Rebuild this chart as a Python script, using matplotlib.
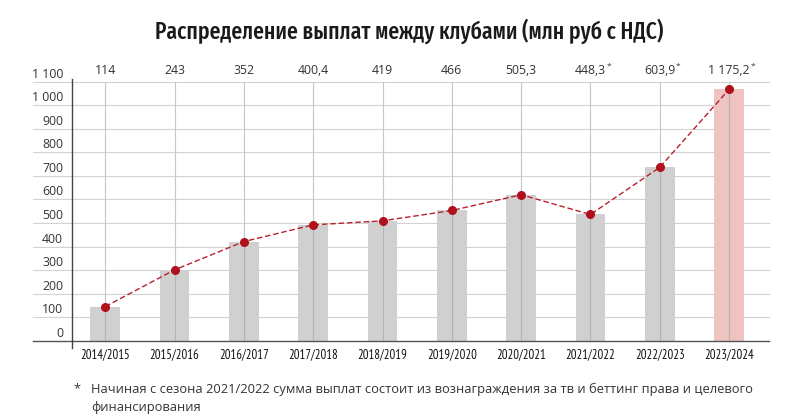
import matplotlib
matplotlib.use("Agg")
import matplotlib.pyplot as plt
from matplotlib import font_manager

seasons = ["2014/2015", "2015/2016", "2016/2017", "2017/2018", "2018/2019",
           "2019/2020", "2020/2021", "2021/2022", "2022/2023", "2023/2024"]
# bar heights as drawn against the axis
bar_values = [145, 301, 421, 492, 509, 553, 620, 536, 736, 1067]
# printed value labels
value_labels = ["114", "243", "352", "400,4", "419", "466", "505,3", "448,3", "603,9", "1 175,2"]
starred = [False, False, False, False, False, False, False, True, True, True]
y_ticks = [0, 100, 200, 300, 400, 500, 600, 700, 800, 900, 1000, 1100]
y_tick_labels = ["0", "100", "200", "300", "400", "500", "600", "700", "800", "900", "1 000", "1 100"]
title = "Распределение выплат между клубами (млн руб с НДС)"
footnote_line1 = "Начиная с сезона 2021/2022 сумма выплат состоит из вознаграждения за тв и беттинг права и целевого"
footnote_line2 = "финансирования"

names = {f.name for f in font_manager.fontManager.ttflist}
def pick(*c):
    for n in c:
        if n in names:
            return [n, "DejaVu Sans"]
    return ["DejaVu Sans"]
title_font = pick("Fira Sans Extra Condensed", "Roboto Condensed", "PT Sans Narrow", "Roboto")
narrow = pick("PT Sans Narrow", "Roboto Condensed", "Roboto")
body = pick("Open Sans", "Noto Sans")

W, H = 800, 420
fig = plt.figure(figsize=(W / 100, H / 100), dpi=100)
fig.patch.set_facecolor("white")

px_left, px_right = 33, 769
px_base, px_top = 340.7, 81.7
ax = fig.add_axes([px_left / W, (H - px_base) / H, (px_right - px_left) / W, (px_base - px_top) / H])
ax.set_axis_off()

step = 69.3
c0 = 105.3
xl = (px_left - c0) / step
xr = (px_right - c0) / step
ax.set_xlim(xl, xr)
ax.set_ylim(0, 1100)
ppu = (px_base - px_top) / 1100.0

x = list(range(len(seasons)))

for v in y_ticks[1:]:
    ax.plot([xl, xr], [v, v], color="#d2d2d2", lw=0.8, zorder=1, clip_on=False)
for i in x:
    ax.plot([i, i], [0, 1100], color="#c6c6c6", lw=0.8, zorder=1, clip_on=False)

colors = ["#d0d0d0"] * (len(seasons) - 1) + ["#efc3bf"]
ax.bar(x, bar_values, width=0.43, color=colors, zorder=2)
for i in x:
    ax.plot([i, i], [0, bar_values[i]], color="#b3b3b3", lw=0.8, zorder=2.5)

ax.plot([xl, xr], [0, 0], color="#555555", lw=1.0, zorder=3, clip_on=False)
yax = (72.3 - c0) / step
ax.plot([yax, yax], [-(348 - px_base) / ppu, 1100 + 2.5 / ppu], color="#444444", lw=1.0,
        zorder=3, clip_on=False)

ax.plot(x, bar_values, color="#b8202e", lw=1.0, dashes=(4, 2), zorder=4)
ax.plot(x, bar_values, "o", color="#b0101c", ms=5.5, zorder=5, lw=0)

for v, lab in zip(y_ticks, y_tick_labels):
    ax.text((63 - c0) / step, v + 7.5 / ppu, lab, ha="right", va="center",
            fontsize=8.8, family=body, color="#333333", clip_on=False)

fig.canvas.draw()
renderer = fig.canvas.get_renderer()
inv = ax.transData.inverted()
for i, lab in enumerate(value_labels):
    t = ax.text(i, 1100 + 11 / ppu, lab, ha="center", va="center", fontsize=8.8,
                family=body, color="#333333", clip_on=False)
    if starred[i]:
        bb = t.get_window_extent(renderer)
        xs = inv.transform((bb.x1 + 0.5, bb.y1))[0]
        ax.text(xs, 1100 + 15 / ppu, "*", ha="left", va="center", fontsize=6,
                family=body, color="#333333", clip_on=False)

for i, s in enumerate(seasons):
    ax.text(i, -(354.5 - px_base) / ppu, s, ha="center", va="center", fontsize=9.2,
            family=narrow, color="#111111", clip_on=False)

tt = fig.text(409 / W, 1 - 31 / H, title, ha="center", va="center", fontsize=16,
              family=title_font, weight="medium", color="#1a1a1a")
bb = tt.get_window_extent(renderer)
tt.set_fontsize(16 * 508 / bb.width)

fig.text(73 / W, 1 - 389 / H, "*", ha="left", va="center", fontsize=9.2, family=body, color="#333333")
f1 = fig.text(91 / W, 1 - 389 / H, footnote_line1, ha="left", va="center", fontsize=9.2,
              family=body, color="#333333")
bb = f1.get_window_extent(renderer)
fs = 9.2 * 661 / bb.width
f1.set_fontsize(fs)
fig.text(91 / W, 1 - 408 / H, footnote_line2, ha="left", va="center", fontsize=fs,
         family=body, color="#333333")

fig.savefig("out.png", dpi=100, facecolor="white")
